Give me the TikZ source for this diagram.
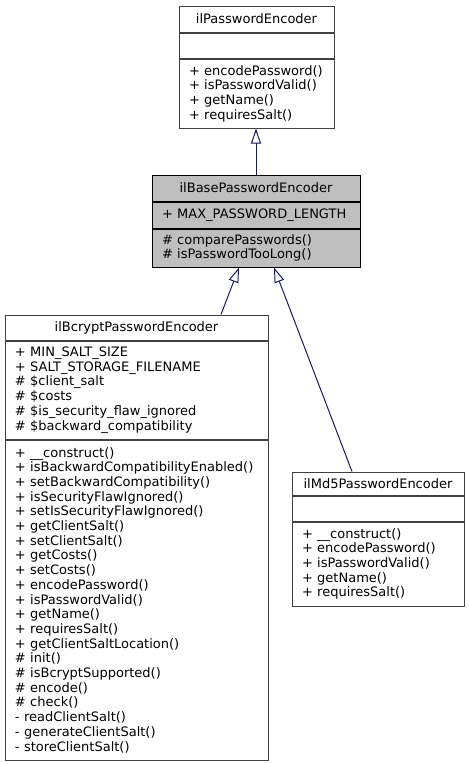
\documentclass[tikz,border=0pt]{standalone}
\usepackage{fontspec}
\setmainfont{DejaVu Sans}
\usepackage{tikz}
\usetikzlibrary{arrows.meta,positioning,calc}
\definecolor{edgeblue}{HTML}{191970}
\definecolor{boxgray}{HTML}{BFBFBF}
\definecolor{boxline}{HTML}{404040}

\begin{document}
\begin{tikzpicture}[
    x=1pt, y=-1pt,
    font=\fontsize{13}{14.7}\selectfont,
    >={Triangle[open, length=15pt, width=10pt]},
    ctitle/.style={draw=boxline, line width=1pt, fill=white, inner sep=0pt},
    cbody/.style={ctitle, align=left, inner xsep=10pt, inner ysep=0pt,
                  anchor=north},
    cur/.style={fill=boxgray, draw=black},
    inherit/.style={->, line width=1pt, edgeblue},
]
    \useasboundingbox (0,0) rectangle (469,764);

    % ============================================================
    %  BASE INTERFACE
    % ============================================================
    \node[ctitle, minimum width=155pt, minimum height=26pt] (pet) at (256.5,19)
        {ilPasswordEncoder};
    \node[cbody, minimum width=155pt, minimum height=25pt, text width=135pt]
        (pea) at (pet.south) {};
    \node[cbody, minimum width=155pt, minimum height=69pt, text width=135pt]
        (pem) at (pea.south)
        {+ encodePassword()\\ + isPasswordValid()\\ + getName()\\ + requiresSalt()};

    % ============================================================
    %  ABSTRACT BASE CLASS (highlighted)
    % ============================================================
    \node[ctitle, cur, minimum width=208pt, minimum height=26pt] (bpt) at (256,188)
        {ilBasePasswordEncoder};
    \node[cbody, cur, minimum width=208pt, minimum height=26pt, text width=188pt]
        (bpa) at (bpt.south) {+ MAX\_PASSWORD\_LENGTH};
    \node[cbody, cur, minimum width=208pt, minimum height=38pt, text width=188pt]
        (bpm) at (bpa.south) {\# comparePasswords()\\ \# isPasswordTooLong()};

    % ============================================================
    %  CONCRETE ENCODERS
    % ============================================================
    \node[ctitle, minimum width=263pt, minimum height=25pt] (bct) at (136.5,327.5)
        {ilBcryptPasswordEncoder};
    \node[cbody, minimum width=263pt, minimum height=98pt, text width=243pt]
        (bca) at (bct.south)
        {+ MIN\_SALT\_SIZE\\ + SALT\_STORAGE\_FILENAME\\ \# \$client\_salt\\
         \# \$costs\\ \# \$is\_security\_flaw\_ignored\\ \# \$backward\_compatibility};
    \node[cbody, minimum width=263pt, minimum height=320pt, text width=243pt]
        (bcm) at (bca.south)
        {+ \_\_construct()\\ + isBackwardCompatibilityEnabled()\\
         + setBackwardCompatibility()\\ + isSecurityFlawIgnored()\\
         + setIsSecurityFlawIgnored()\\ + getClientSalt()\\ + setClientSalt()\\
         + getCosts()\\ + setCosts()\\ + encodePassword()\\ + isPasswordValid()\\
         + getName()\\ + requiresSalt()\\ + getClientSaltLocation()\\
         \# init()\\ \# isBcryptSupported()\\ \# encode()\\ \# check()\\
         - readClientSalt()\\ - generateClientSalt()\\ - storeClientSalt()};

    \node[ctitle, minimum width=172pt, minimum height=23pt] (mdt) at (378,483.5)
        {ilMd5PasswordEncoder};
    \node[cbody, minimum width=172pt, minimum height=25pt, text width=152pt]
        (mda) at (mdt.south) {};
    \node[cbody, minimum width=172pt, minimum height=84pt, text width=152pt]
        (mdm) at (mda.south)
        {+ \_\_construct()\\ + encodePassword()\\ + isPasswordValid()\\
         + getName()\\ + requiresSalt()};

    % ============================================================
    %  GENERALIZATION EDGES
    % ============================================================
    \draw[inherit] (bpt.north) -- (bpt.north |- pem.south);
    \draw[inherit] ([xshift=84.5pt]bct.north) -- ([xshift=-17pt]bpm.south);
    \draw[inherit] ([xshift=-26pt]mdt.north) -- ([xshift=18pt]bpm.south);

\end{tikzpicture}
\end{document}
